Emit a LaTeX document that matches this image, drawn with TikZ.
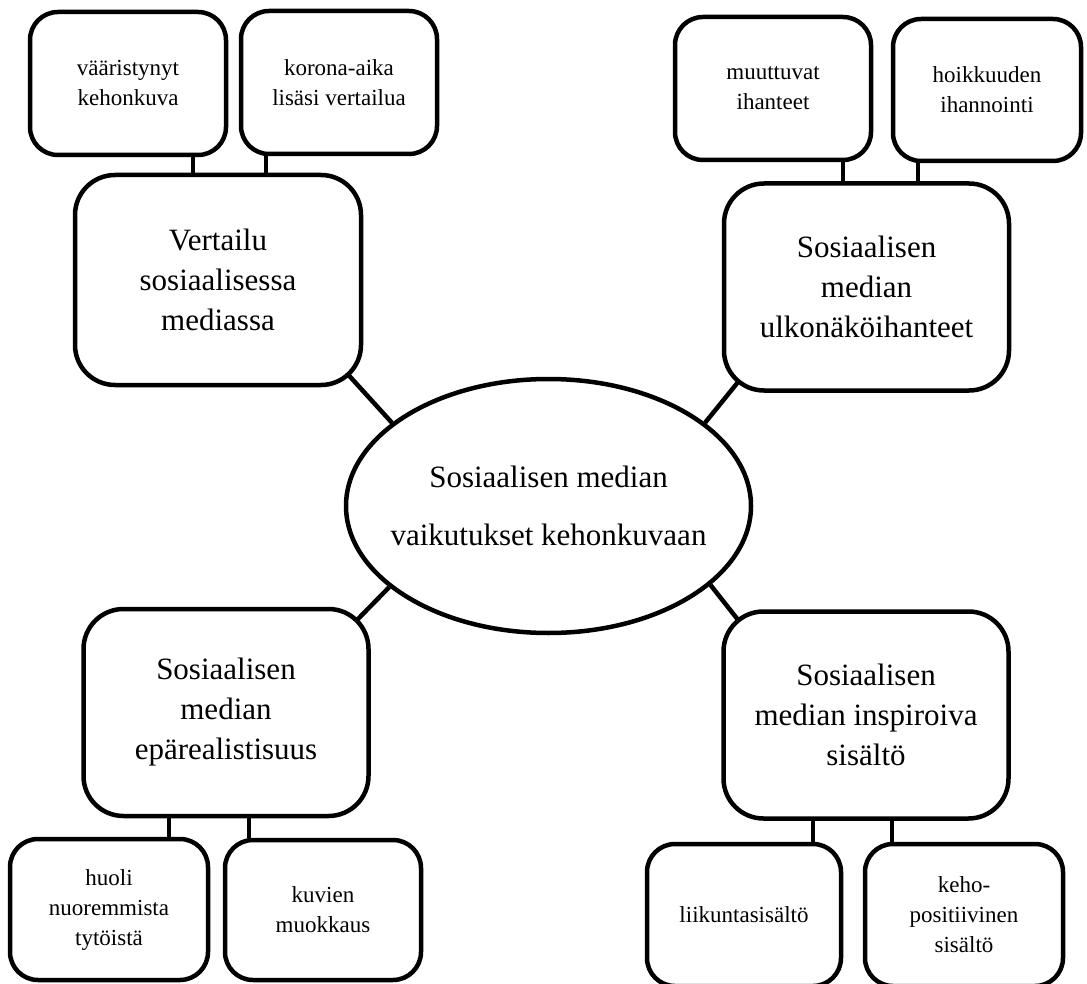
\documentclass[tikz,border=0pt]{standalone}
\usepackage{fontspec}
\setmainfont{Liberation Serif}
\usetikzlibrary{shapes.geometric,calc,backgrounds}

\begin{document}
\begin{tikzpicture}[x=1pt, y=-1pt, line width=4.5pt, line cap=round, line join=round,
      every node/.style={inner sep=0pt, align=center},
      link/.style={line width=4.5pt},
      smallbox/.style={draw, fill=white, rounded corners=28pt,
        minimum width=196pt, minimum height=142pt, font=\fontsize{23}{30}\selectfont},
      topicbox/.style={draw, fill=white, rounded corners=40pt,
        minimum width=285pt, minimum height=207pt, font=\fontsize{31}{40}\selectfont}]
    \useasboundingbox (0,0) rectangle (1087,984);
    % ==== centre ====
    \node[draw, fill=white, ellipse, inner xsep=-20pt, minimum width=405pt, minimum height=254pt,
      font=\fontsize{31}{58}\selectfont] (keskus) at (548.5,506)
      {Sosiaalisen median\\vaikutukset kehonkuvaan};
    % ==== top left: vertailu ====
    \node[topicbox, minimum width=286pt, minimum height=210pt] (vertailu) at (218,280)
      {Vertailu\\sosiaalisessa\\mediassa};
    \node[smallbox, minimum height=143pt] (vaaristynyt) at (128,83.5) {vääristynyt\\kehonkuva};
    \node[smallbox, minimum height=143pt] (korona) at (339,82.5) {korona-aika\\lisäsi vertailua};
    % ==== top right: ihanteet ====
    \node[topicbox] (ihanteet) at (866.5,287) {Sosiaalisen\\median\\ulkonäköihanteet};
    \node[smallbox, minimum height=143pt] (muuttuvat) at (773,88.5) {muuttuvat\\ihanteet};
    \node[smallbox, minimum width=188pt] (hoikkuus) at (987,90) {hoikkuuden\\ihannointi};
    % ==== bottom left: epärealistisuus ====
    \node[topicbox] (epareal) at (226,712.5) {Sosiaalisen\\median\\epärealistisuus};
    \node[smallbox, minimum width=198pt, minimum height=141pt] (huoli) at (109,909.5)
      {huoli\\nuoremmista\\tytöistä};
    \node[smallbox, minimum height=140pt] (muokkaus) at (323,910) {kuvien\\muokkaus};
    % ==== bottom right: inspiroiva ====
    \node[topicbox] (inspiroiva) at (866,715) {Sosiaalisen\\median inspiroiva\\sisältö};
    \node[smallbox, minimum width=194pt] (liikunta) at (744,915) {liikuntasisältö};
    \node[smallbox, minimum width=198pt] (keho) at (964,915) {keho-\\positiivinen\\sisältö};
    % ==== connectors (behind the boxes) ====
    \begin{pgfonlayer}{background}
      \foreach \iso/\pieni/\dx in {vertailu/vaaristynyt/-25, vertailu/korona/48,
          ihanteet/muuttuvat/-23.5, ihanteet/hoikkuus/51.5}
        \draw[link] ($(\iso.north)+(\dx,0)$) coordinate (t) -- (t |- \pieni.south);
      \foreach \iso/\pieni/\dx in {epareal/huoli/-57, epareal/muokkaus/23,
          inspiroiva/liikunta/-53, inspiroiva/keho/26}
        \draw[link] ($(\iso.south)+(\dx,0)$) coordinate (t) -- (t |- \pieni.north);
      % spokes from the ellipse to the rounded corners
      \draw[link] (keskus.152) -- ($(vertailu.south east)+(-40,-40)$);
      \draw[link] (keskus.28) -- ($(ihanteet.south west)+(40,-40)$);
      \draw[link] (keskus.207) -- ($(epareal.north east)+(-40,40)$);
      \draw[link] (keskus.334) -- ($(inspiroiva.north west)+(40,40)$);
    \end{pgfonlayer}
  \end{tikzpicture}
\end{document}
